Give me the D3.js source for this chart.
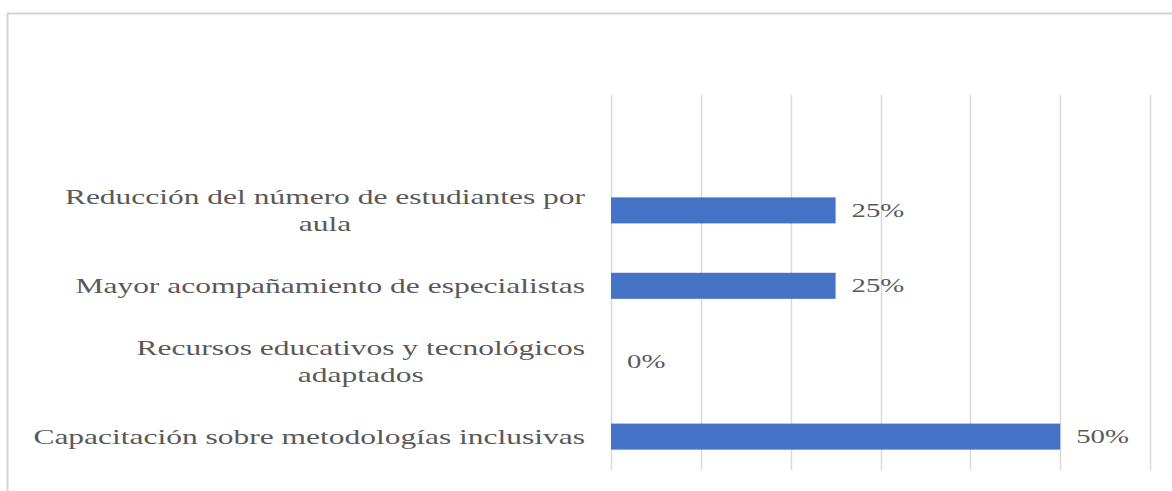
<!DOCTYPE html>
<html>
<head>
<meta charset="utf-8">
<script src="https://cdn.jsdelivr.net/npm/d3@7"></script>
<style>
  html, body { margin: 0; padding: 0; background: #fff; }
</style>
</head>
<body>
<svg id="chart"></svg>
<script>
const categories = [
  ["Reducción del número de estudiantes por", "aula"],
  ["Mayor acompañamiento de especialistas"],
  ["Recursos educativos y tecnológicos", "adaptados"],
  ["Capacitación sobre metodologías inclusivas"]
];
const values = [0.25, 0.25, 0, 0.5];
const tickValues = [0, 0.1, 0.2, 0.3, 0.4, 0.5, 0.6];

const W = 1172, H = 491;
const svg = d3.select("#chart").attr("width", W).attr("height", H);

const stretch = 1.5; // text looks wider than normal in the source
const valueStretch = 1.6;

// frame (cut off at right and bottom)
svg.append("path")
  .attr("d", `M 7.5 ${H} L 7.5 13.5 L ${W} 13.5`)
  .attr("fill", "none")
  .attr("stroke", "#d4d4d4")
  .attr("stroke-width", 2);

const x = d3.scaleLinear().domain([0, 0.6]).range([611, 1150]);
const y = d3.scaleBand()
  .domain(d3.range(categories.length))
  .range([172.5, 474.5])
  .paddingInner(0.655)
  .paddingOuter(0.33);

// gridlines
svg.append("g")
  .selectAll("line")
  .data(tickValues)
  .join("line")
  .attr("x1", d => Math.round(x(d)) + 0.5)
  .attr("x2", d => Math.round(x(d)) + 0.5)
  .attr("y1", 95)
  .attr("y2", 470)
  .attr("stroke", "#d9d9d9")
  .attr("stroke-width", 1.5);

// bars
svg.append("g")
  .selectAll("rect")
  .data(values)
  .join("rect")
  .attr("x", x(0))
  .attr("y", (d, i) => y(i))
  .attr("width", d => x(d) - x(0))
  .attr("height", y.bandwidth())
  .attr("fill", "#4472c4");

// value labels
svg.append("g")
  .selectAll("text")
  .data(values)
  .join("text")
  .attr("transform", (d, i) => `translate(${x(d) + 16}, ${y(i) + y.bandwidth() / 2}) scale(${valueStretch}, 1)`)
  .attr("dy", "0.35em")
  .attr("font-family", "'Liberation Serif', 'Times New Roman', serif")
  .attr("font-size", 18)
  .attr("fill", "#595959")
  .text(d => d3.format(".0%")(d));

// category labels
const labelRight = 585;
const lineH = 27;
const labels = svg.append("g")
  .selectAll("g")
  .data(categories)
  .join("g")
  .attr("transform", (d, i) => `translate(${labelRight}, ${y(i) + y.bandwidth() / 2}) scale(${stretch}, 1)`);

labels.each(function (lines) {
  const g = d3.select(this);
  const t = g.append("text")
    .attr("font-family", "'Liberation Serif', 'Times New Roman', serif")
    .attr("font-size", 21)
    .attr("fill", "#595959");
  lines.forEach((ln, k) => {
    t.append("tspan")
      .attr("x", 0)
      .attr("y", (k - (lines.length - 1) / 2) * lineH)
      .attr("dy", "0.35em")
      .text(ln);
  });
  // right-align the block, center lines within it
  const widths = [];
  t.selectAll("tspan").each(function () { widths.push(this.getComputedTextLength()); });
  const maxW = d3.max(widths);
  t.selectAll("tspan").attr("x", (d, k) => -maxW + (maxW - widths[k]) / 2);
});
</script>
</body>
</html>
